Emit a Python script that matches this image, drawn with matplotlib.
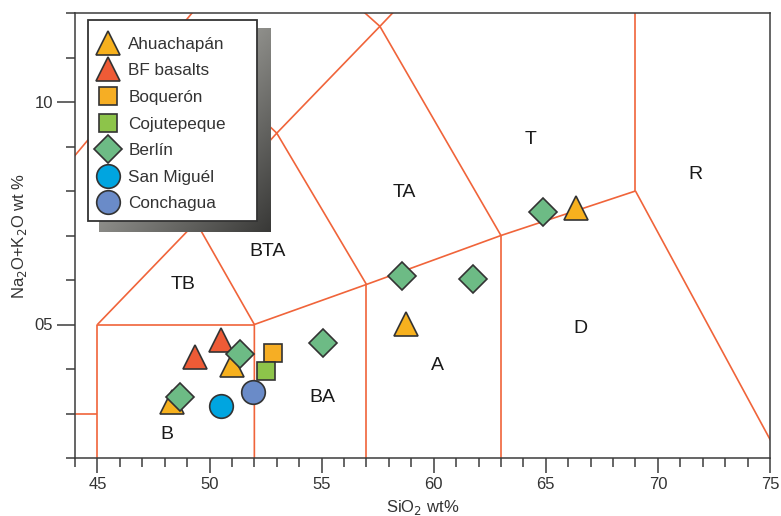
import numpy as np
import matplotlib
matplotlib.use("Agg")
import matplotlib.pyplot as plt
from matplotlib.lines import Line2D
from matplotlib.patches import Rectangle
from matplotlib.ticker import MultipleLocator, FixedLocator

plt.rcParams['font.family'] = ['Liberation Sans', 'DejaVu Sans']

# ---------------- data ----------------
groups = ["Ahuachapán", "BF basalts", "Boquerón", "Cojutepeque", "Berlín", "San Miguél", "Conchagua"]
markers = ["^", "^", "s", "s", "D", "o", "o"]
colors = ["#F7B11E", "#EE5B36", "#F6AE24", "#8DC44A", "#6DBB85", "#00A5E0", "#6A8BC8"]
msizes = [17, 17, 13, 13, 14, 17, 17]

ahuachapan_x = [48.34, 51.01, 58.77, 66.35]
ahuachapan_y = [3.26, 4.08, 5.01, 7.62]
bf_x = [49.37, 50.49]
bf_y = [4.27, 4.66]
boqueron_x = [52.81]
boqueron_y = [4.36]
cojutepeque_x = [52.54]
cojutepeque_y = [3.96]
berlin_x = [48.70, 51.38, 55.04, 58.60, 61.77, 64.89]
berlin_y = [3.37, 4.34, 4.58, 6.09, 6.02, 7.53]
sanmiguel_x = [50.49]
sanmiguel_y = [3.17]
conchagua_x = [51.96]
conchagua_y = [3.48]

series = [(ahuachapan_x, ahuachapan_y), (bf_x, bf_y), (boqueron_x, boqueron_y),
          (cojutepeque_x, cojutepeque_y), (berlin_x, berlin_y),
          (sanmiguel_x, sanmiguel_y), (conchagua_x, conchagua_y)]
draw_order = [0, 1, 3, 2, 4, 5, 6]

# TAS field boundaries (polylines of SiO2, Na2O+K2O)
tas_lines = [
    [(41, 3), (45, 3)],
    [(45, 0), (45, 5), (52, 5)],
    [(52, 0), (52, 5), (57, 5.9), (63, 7), (69, 8)],
    [(57, 0), (57, 5.9)],
    [(63, 0), (63, 7)],
    [(69, 8), (69, 13)],
    [(69, 8), (77.6, 0)],
    [(45, 5), (49.4, 7.3), (52, 5)],
    [(49.4, 7.3), (53, 9.3), (57, 5.9)],
    [(53, 9.3), (57.6, 11.7), (63, 7)],
    [(57.6, 11.7), (61, 13.5)],
    [(41, 7), (45, 9.4), (48.4, 11.5), (52.5, 14)],
    [(45, 9.4), (49.4, 7.3)],
    [(48.4, 11.5), (53, 9.3)],
    [(52.5, 14), (57.6, 11.7)],
]

field_names = ["TB", "BTA", "TA", "T", "R", "D", "A", "BA", "B"]
field_x = [48.82, 52.61, 58.71, 64.33, 71.69, 66.53, 60.15, 55.03, 48.12]
field_y = [5.91, 6.65, 7.96, 9.15, 8.38, 4.90, 4.07, 3.37, 2.52]

# ---------------- figure ----------------
W, H = 781, 516
fig = plt.figure(figsize=(W / 100, H / 100), dpi=100)
AX_L, AX_T, AX_W, AX_H = 75, 13, 695, 445
ax = fig.add_axes([AX_L / W, 1 - (AX_T + AX_H) / H, AX_W / W, AX_H / H])


def px2ax(px, py):
    return (px - AX_L) / AX_W, 1 - (py - AX_T) / AX_H


line_color = "#F0643A"
for seg in tas_lines:
    xs, ys = zip(*seg)
    ax.plot(xs, ys, color=line_color, lw=1.2, zorder=1, solid_capstyle='butt')

for name, fx, fy in zip(field_names, field_x, field_y):
    ax.text(fx, fy, name, fontsize=14, ha='center', va='center', color='#1a1a1a', zorder=2)

edge = "#333333"
for i in draw_order:
    xs, ys = series[i]
    ax.plot(xs, ys, linestyle='none', marker=markers[i], markersize=msizes[i],
            markerfacecolor=colors[i], markeredgecolor=edge, markeredgewidth=1.2,
            zorder=3 + i * 0.01)

ax.set_xlim(44, 75)
ax.set_ylim(2, 12)

spine_col = "#3c3c3c"
for s in ax.spines.values():
    s.set_color(spine_col)
    s.set_linewidth(1.1)

ax.xaxis.set_major_locator(FixedLocator([45, 50, 55, 60, 65, 70, 75]))
ax.xaxis.set_minor_locator(MultipleLocator(1))
ax.yaxis.set_major_locator(FixedLocator([5, 10]))
ax.set_yticklabels(["05", "10"])
ax.yaxis.set_minor_locator(MultipleLocator(1))
ax.tick_params(axis='x', which='major', direction='out', length=11, width=1.1, color=spine_col,
               labelsize=12, pad=3, labelcolor='#333333')
ax.tick_params(axis='x', which='minor', direction='out', length=6.5, width=1.1, color=spine_col)
ax.tick_params(axis='y', which='major', direction='out', length=13, width=1.1, color=spine_col,
               labelsize=12, pad=3, labelcolor='#333333')
ax.tick_params(axis='y', which='minor', direction='out', length=6.5, width=1.1, color=spine_col)

ax.set_xlabel("SiO$_2$ wt%", fontsize=12, color='#333333', labelpad=4)
ax.set_ylabel("Na$_2$O+K$_2$O wt %", fontsize=12, color='#333333', labelpad=4)

# gradient shadow behind legend box
nx, ny = 200, 200
u = np.linspace(0, 1, nx)[None, :]
v = np.linspace(1, 0, ny)[:, None]  # 1 at top row
g = 0.86 - 0.64 * (0.5 * u + 0.5 * (1 - v))
rgb = np.dstack([g, g, g * 0.97])
sx0, sy1 = px2ax(99, 28)
sx1, sy0 = px2ax(271, 232)
ax.imshow(rgb, extent=[sx0, sx1, sy0, sy1], transform=ax.transAxes, aspect='auto',
          zorder=4.4, interpolation='bilinear', clip_on=False)

# legend box
bx0, by1 = px2ax(88, 20)
bx1, by0 = px2ax(257, 221)
ax.add_patch(Rectangle((bx0, by0), bx1 - bx0, by1 - by0, transform=ax.transAxes,
                       facecolor='white', edgecolor='#333333', lw=1.3, zorder=4.6, clip_on=False))

handles = [Line2D([], [], linestyle='none', marker=markers[i], markersize=msizes[i],
                  markerfacecolor=colors[i], markeredgecolor=edge, markeredgewidth=1.2)
           for i in range(len(groups))]
lx, ly = px2ax(88, 29)
leg = ax.legend(handles, groups, loc='upper left', bbox_to_anchor=(lx, ly),
                borderaxespad=0, fontsize=12.3, frameon=False,
                labelspacing=0.68, handlelength=1.4, handletextpad=0.5,
                borderpad=0.45, labelcolor='#333333')
leg.set_zorder(5)

ax.set_xlim(44, 75)
ax.set_ylim(2, 12)

fig.savefig("out.png", dpi=100)
